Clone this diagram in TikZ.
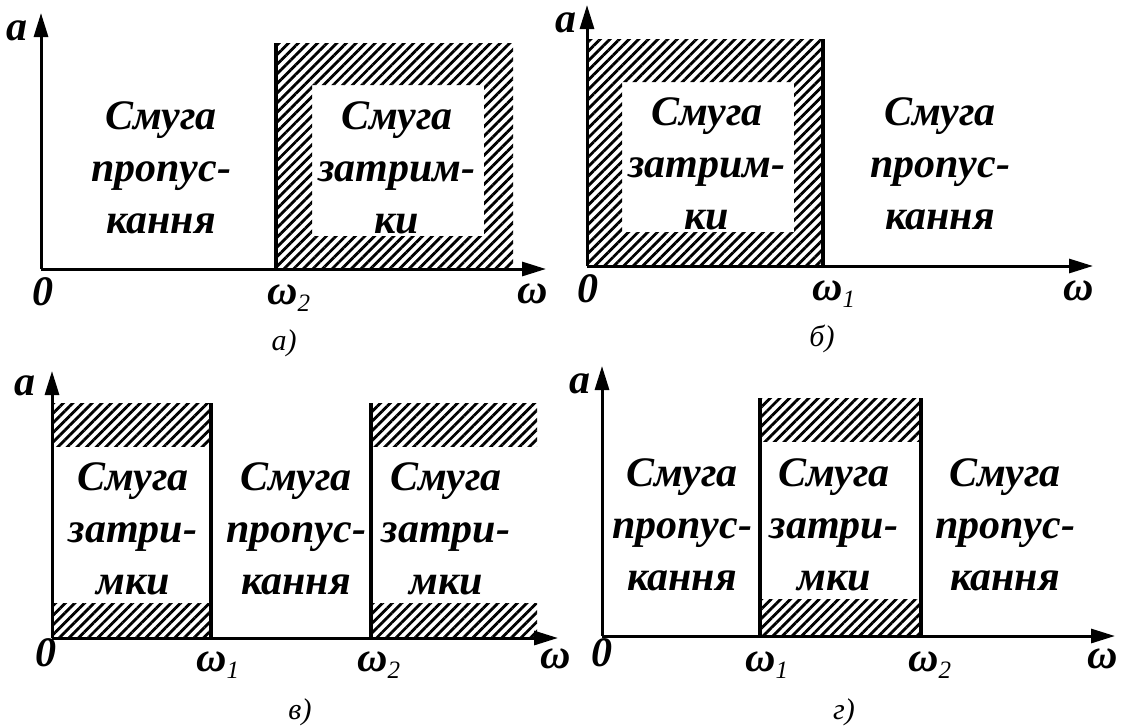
\documentclass[tikz,border=0pt]{standalone}
\usepackage{fontspec}
\setmainfont{Liberation Serif}
\usetikzlibrary{arrows.meta,patterns.meta}
\newcommand{\wsub}[1]{ω{\fontsize{25}{25}\selectfont\mdseries\raisebox{-7pt}{#1}}}
\tikzset{
  axis/.style={line width=3pt, -{Triangle[length=24pt,width=14pt]}},
  edge/.style={line width=3.2pt},
  hatch/.style={pattern={Lines[angle=45,distance=6.8pt,line width=2.8pt]}},
  band/.style={font=\fontsize{42}{52}\selectfont\bfseries\itshape, align=center, inner sep=0pt},
  lbl/.style={font=\fontsize{42}{42}\selectfont\bfseries\itshape, inner sep=0pt},
  capt/.style={font=\fontsize{30}{30}\selectfont\itshape, inner sep=0pt, anchor=base}
}
\begin{document}
\begin{tikzpicture}[x=1pt, y=-1pt]
  \useasboundingbox (0,0) rectangle (1121,726);

  % a)
  \coordinate (a0) at (41,269);
  \coordinate (aY) at (41,13);
  \coordinate (aX) at (546,269);
  \fill[hatch, even odd rule] (276,43) rectangle (513,269) (312,85) rectangle (484,236);
  \draw[edge] (276,43) -- (276,269);
  \draw[axis] (a0) -- (aY);
  \draw[axis] (a0) -- (aX);
  \node[band] (aPass) at (161,168) {Смуга\\пропус-\\кання};
  \node[band] (aStop) at (397,168) {Смуга\\затрим-\\ки};
  \node[lbl, anchor=base] (aA) at (17,40) {a};
  \node[lbl, anchor=base] (aZero) at (43,305) {0};
  \node[lbl, anchor=base west] (aW2) at (267,304) {\wsub{2}};
  \node[lbl, anchor=base] (aW) at (533,303) {ω};
  \node[capt] (aCap) at (284,350) {а)};

  % б)
  \coordinate (b0) at (587,266);
  \coordinate (bY) at (587,5);
  \coordinate (bX) at (1093,266);
  \fill[hatch, even odd rule] (587,39) rectangle (823,266) (622,82) rectangle (794,232);
  \draw[edge] (823,39) -- (823,266);
  \draw[axis] (b0) -- (bY);
  \draw[axis] (b0) -- (bX);
  \node[band] (bStop) at (707,164) {Смуга\\затрим-\\ки};
  \node[band] (bPass) at (940,164) {Смуга\\пропус-\\кання};
  \node[lbl, anchor=base] (bA) at (566,32) {a};
  \node[lbl, anchor=base] (bZero) at (588,302) {0};
  \node[lbl, anchor=base west] (bW1) at (812,300) {\wsub{1}};
  \node[lbl, anchor=base] (bW) at (1079,300) {ω};
  \node[capt] (bCap) at (822,346) {б)};

  % в)
  \coordinate (c0) at (52,638);
  \coordinate (cY) at (52,371);
  \coordinate (cX) at (558,638);
  \fill[hatch] (52,403) rectangle (211,446);
  \fill[hatch] (52,603) rectangle (211,638);
  \fill[hatch] (371,403) rectangle (537,446);
  \fill[hatch] (371,603) rectangle (537,638);
  \draw[edge] (211,403) -- (211,638);
  \draw[edge] (371,403) -- (371,638);
  \draw[axis] (c0) -- (cY);
  \draw[axis] (c0) -- (cX);
  \node[band] (cStopL) at (133,529) {Смуга\\затри-\\мки};
  \node[band] (cPass) at (296,529) {Смуга\\пропус-\\кання};
  \node[band] (cStopR) at (446,529) {Смуга\\затри-\\мки};
  \node[lbl, anchor=base] (cA) at (25,395) {a};
  \node[lbl, anchor=base] (cZero) at (46,666) {0};
  \node[lbl, anchor=base west] (cW1) at (196,671) {\wsub{1}};
  \node[lbl, anchor=base west] (cW2) at (357,671) {\wsub{2}};
  \node[lbl, anchor=base] (cW) at (556,668) {ω};
  \node[capt] (cCap) at (300,719) {в)};

  % г)
  \coordinate (d0) at (602,636);
  \coordinate (dY) at (602,366);
  \coordinate (dX) at (1115,636);
  \fill[hatch] (760,398) rectangle (921,441);
  \fill[hatch] (760,599) rectangle (921,636);
  \draw[edge] (760,398) -- (760,636);
  \draw[edge] (921,398) -- (921,636);
  \draw[axis] (d0) -- (dY);
  \draw[axis] (d0) -- (dX);
  \node[band] (dPassL) at (682,525) {Смуга\\пропус-\\кання};
  \node[band] (dStop) at (834,525) {Смуга\\затри-\\мки};
  \node[band] (dPassR) at (1005,525) {Смуга\\пропус-\\кання};
  \node[lbl, anchor=base] (dA) at (580,393) {a};
  \node[lbl, anchor=base] (dZero) at (602,666) {0};
  \node[lbl, anchor=base west] (dW1) at (745,671) {\wsub{1}};
  \node[lbl, anchor=base west] (dW2) at (908,671) {\wsub{2}};
  \node[lbl, anchor=base] (dW) at (1103,668) {ω};
  \node[capt] (dCap) at (844,719) {г)};
\end{tikzpicture}
\end{document}
